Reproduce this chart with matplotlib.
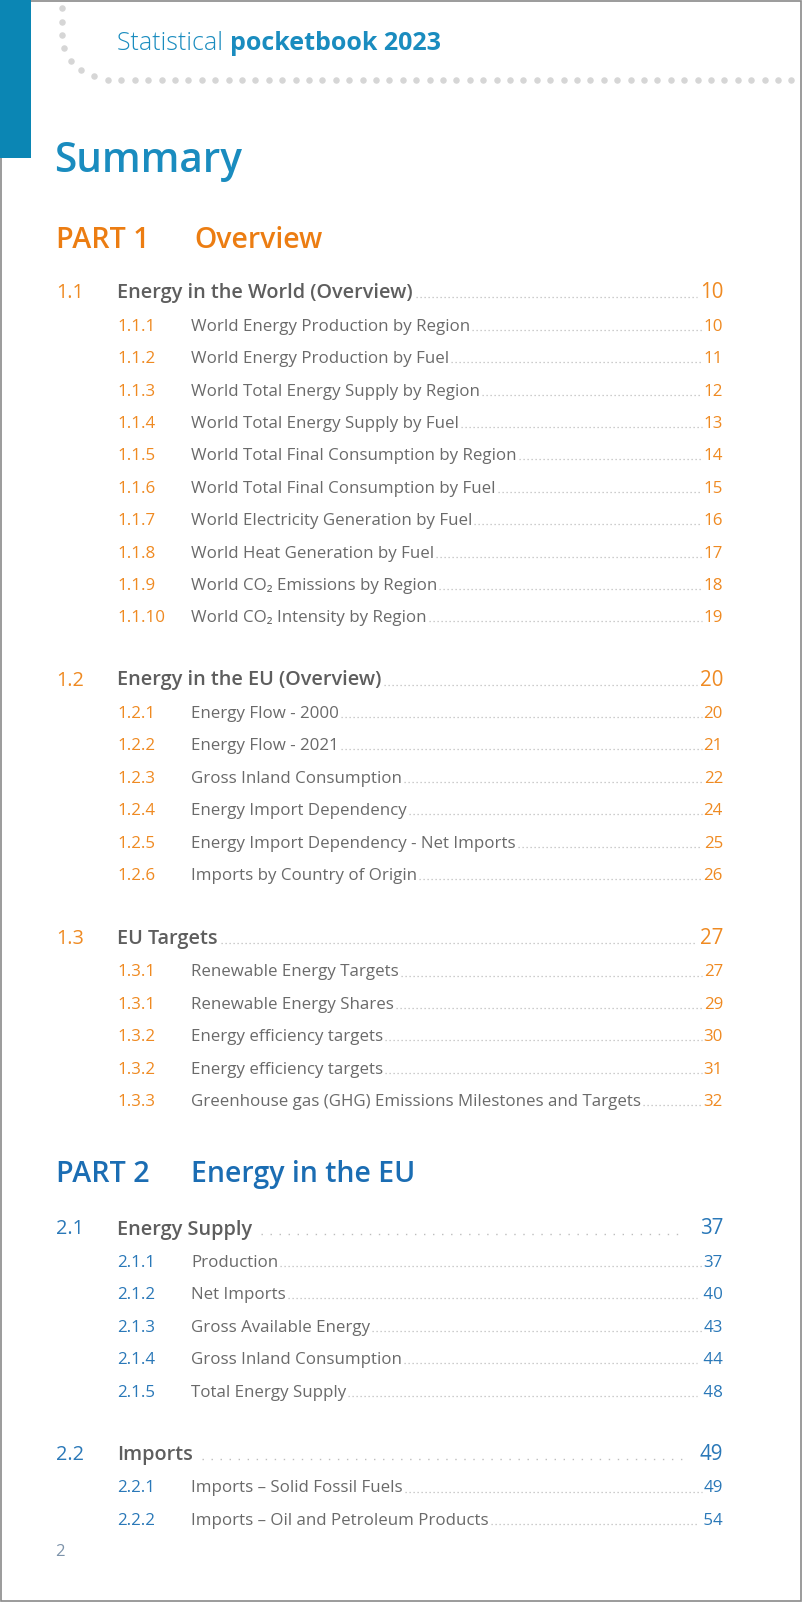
import matplotlib
matplotlib.use("Agg")
import matplotlib.pyplot as plt
from matplotlib.patches import Rectangle
import numpy as np

# ---------------- data ----------------
header_light = "Statistical"
header_bold = "pocketbook 2023"
page_title = "Summary"
page_number = "2"

part_labels = ["PART 1", "PART 2"]
part_titles = ["Overview", "Energy in the EU"]

sec_numbers = ["1.1", "1.2", "1.3", "2.1", "2.2"]
sec_titles = ["Energy in the World (Overview)", "Energy in the EU (Overview)",
              "EU Targets", "Energy Supply", "Imports"]
sec_pages = ["10", "20", "27", "37", "49"]
sec_part = [0, 0, 0, 1, 1]

sub_numbers = ["1.1.1", "1.1.2", "1.1.3", "1.1.4", "1.1.5", "1.1.6", "1.1.7", "1.1.8", "1.1.9", "1.1.10",
               "1.2.1", "1.2.2", "1.2.3", "1.2.4", "1.2.5", "1.2.6",
               "1.3.1", "1.3.1", "1.3.2", "1.3.2", "1.3.3",
               "2.1.1", "2.1.2", "2.1.3", "2.1.4", "2.1.5",
               "2.2.1", "2.2.2"]
sub_titles = ["World Energy Production by Region", "World Energy Production by Fuel",
              "World Total Energy Supply by Region", "World Total Energy Supply by Fuel",
              "World Total Final Consumption by Region", "World Total Final Consumption by Fuel",
              "World Electricity Generation by Fuel", "World Heat Generation by Fuel",
              "World CO\u2082 Emissions by Region", "World CO\u2082 Intensity by Region",
              "Energy Flow - 2000", "Energy Flow - 2021", "Gross Inland Consumption",
              "Energy Import Dependency", "Energy Import Dependency - Net Imports",
              "Imports by Country of Origin",
              "Renewable Energy Targets", "Renewable Energy Shares", "Energy efficiency targets",
              "Energy efficiency targets", "Greenhouse gas (GHG) Emissions Milestones and Targets",
              "Production", "Net Imports", "Gross Available Energy", "Gross Inland Consumption",
              "Total Energy Supply",
              "Imports \u2013 Solid Fossil Fuels", "Imports \u2013 Oil and Petroleum Products"]
sub_pages = ["10", "11", "12", "13", "14", "15", "16", "17", "18", "19",
             "20", "21", "22", "24", "25", "26",
             "27", "29", "30", "31", "32",
             "37", " 40", "43", " 44", " 48",
             "49", " 54"]
sub_section = [0] * 10 + [1] * 6 + [2] * 5 + [3] * 5 + [4] * 2

# ---------------- style / layout ----------------
FONT = "Open Sans"
plt.rcParams["font.family"] = [FONT, "DejaVu Sans"]

W, H = 802, 1602
BLUE_BAR = "#0B86B4"
BLUE_TXT = "#1A8CBF"
ORANGE_PART = "#EC7D12"
ORANGE_NUM = "#EF8A22"
BLUE_PART = "#1B6DB3"
BLUE_NUM = "#2A78B8"
GRAY_SEC = "#5E5E5E"
GRAY_SUB = "#6A6A6A"
LEADER = "#BDBDBD"
DOTS = "#D6D6D6"

part_colors = [ORANGE_PART, BLUE_PART]
num_colors = [ORANGE_NUM, BLUE_NUM]

part_y = [248.5, 1182]
sec_y = [298.3, 685.5, 944, 1234.5, 1460]
SUB_FIRST = 32.5
SUB_STEP = 32.4

X_SEC_NUM = 56
X_SEC_TITLE = 117
X_SUB_NUM = 117
X_SUB_TITLE = 191
X_PAGE = 723

FS_SUB = 12.2
FS_SEC = 14.3

fig = plt.figure(figsize=(W / 100, H / 100), dpi=100)
ax = fig.add_axes([0, 0, 1, 1])
ax.set_xlim(0, W)
ax.set_ylim(H, 0)
ax.axis("off")

# frame
ax.add_patch(Rectangle((0.75, 0.75), W - 1.5, H - 1.5, fill=False, edgecolor="#8A8A8A", lw=1.2))
# blue bar
ax.add_patch(Rectangle((0, 0), 31, 158, color=BLUE_BAR, lw=0))

# decorative dotted corner
corner_x = [62, 62, 62, 64, 71, 81, 94]
corner_y = [7.7, 21.7, 35, 48.3, 61, 70, 76.3]
row_x = np.arange(108, 800, 13.4)
ax.scatter(corner_x + list(row_x), corner_y + [80] * len(row_x), s=22, color=DOTS, lw=0, zorder=2)

# header text
t_light = ax.text(117, 50, header_light + " ", fontsize=18, color=BLUE_TXT, fontweight="light", va="baseline")
fig.canvas.draw()
renderer = fig.canvas.get_renderer()
inv = ax.transData.inverted()


def right_edge(t):
    bb = t.get_window_extent(renderer)
    return inv.transform((bb.x1, bb.y0))[0]


def left_edge(t):
    bb = t.get_window_extent(renderer)
    return inv.transform((bb.x0, bb.y0))[0]


ax.text(right_edge(t_light), 50, header_bold, fontsize=18, color=BLUE_TXT, fontweight="bold", va="baseline")

ax.text(54, 171.7, page_title, fontsize=29.2, color=BLUE_TXT, fontweight="semibold", va="baseline")

# parts
for i in range(len(part_labels)):
    ax.text(X_SEC_NUM, part_y[i], part_labels[i], fontsize=20.7, color=part_colors[i],
            fontweight="semibold", va="baseline")
    ax.text(194 if i == 0 else 191, part_y[i], part_titles[i], fontsize=20.5, color=part_colors[i],
            fontweight="semibold", va="baseline")


def leader(x0, x1, y, spaced=False):
    if x1 <= x0:
        return
    if spaced:
        ax.plot([x0, x1], [y, y], color=LEADER, lw=1.0, linestyle=(0, (1.0, 5.5)),
                solid_capstyle="butt", dash_capstyle="butt")
    else:
        ax.plot([x0, x1], [y, y], color=LEADER, lw=0.9, linestyle=(0, (1.0, 2.2)),
                solid_capstyle="butt", dash_capstyle="butt")


# sections
for s in range(len(sec_numbers)):
    p = sec_part[s]
    y = sec_y[s]
    ax.text(X_SEC_NUM, y, sec_numbers[s], fontsize=14.3, color=num_colors[p], va="baseline")
    tt = ax.text(X_SEC_TITLE, y, sec_titles[s], fontsize=FS_SEC, color=GRAY_SEC, fontweight="semibold",
                 va="baseline")
    pp = ax.text(X_PAGE, y, sec_pages[s], fontsize=14.8, color=num_colors[p], va="baseline", ha="right")
    fig.canvas.draw()
    if p == 1:
        leader(right_edge(tt) + 9, left_edge(pp) - 18, y - 1, spaced=True)
    else:
        leader(right_edge(tt) + 3, left_edge(pp) - 3, y - 1)

# sub items
counts = {}
for k in range(len(sub_numbers)):
    s = sub_section[k]
    j = counts.get(s, 0)
    counts[s] = j + 1
    p = sec_part[s]
    y = sec_y[s] + SUB_FIRST + j * SUB_STEP
    ax.text(X_SUB_NUM, y, sub_numbers[k], fontsize=FS_SUB, color=num_colors[p], va="baseline")
    tt = ax.text(X_SUB_TITLE, y, sub_titles[k], fontsize=FS_SUB, color=GRAY_SUB, va="baseline")
    pp = ax.text(X_PAGE, y, sub_pages[k], fontsize=FS_SUB, color=num_colors[p], va="baseline", ha="right")
    fig.canvas.draw()
    leader(right_edge(tt) + 2, left_edge(pp) - 2, y - 1)

ax.text(55, 1556, page_number, fontsize=12, color="#7D93AA", va="baseline")

fig.savefig("out.png", dpi=100)
